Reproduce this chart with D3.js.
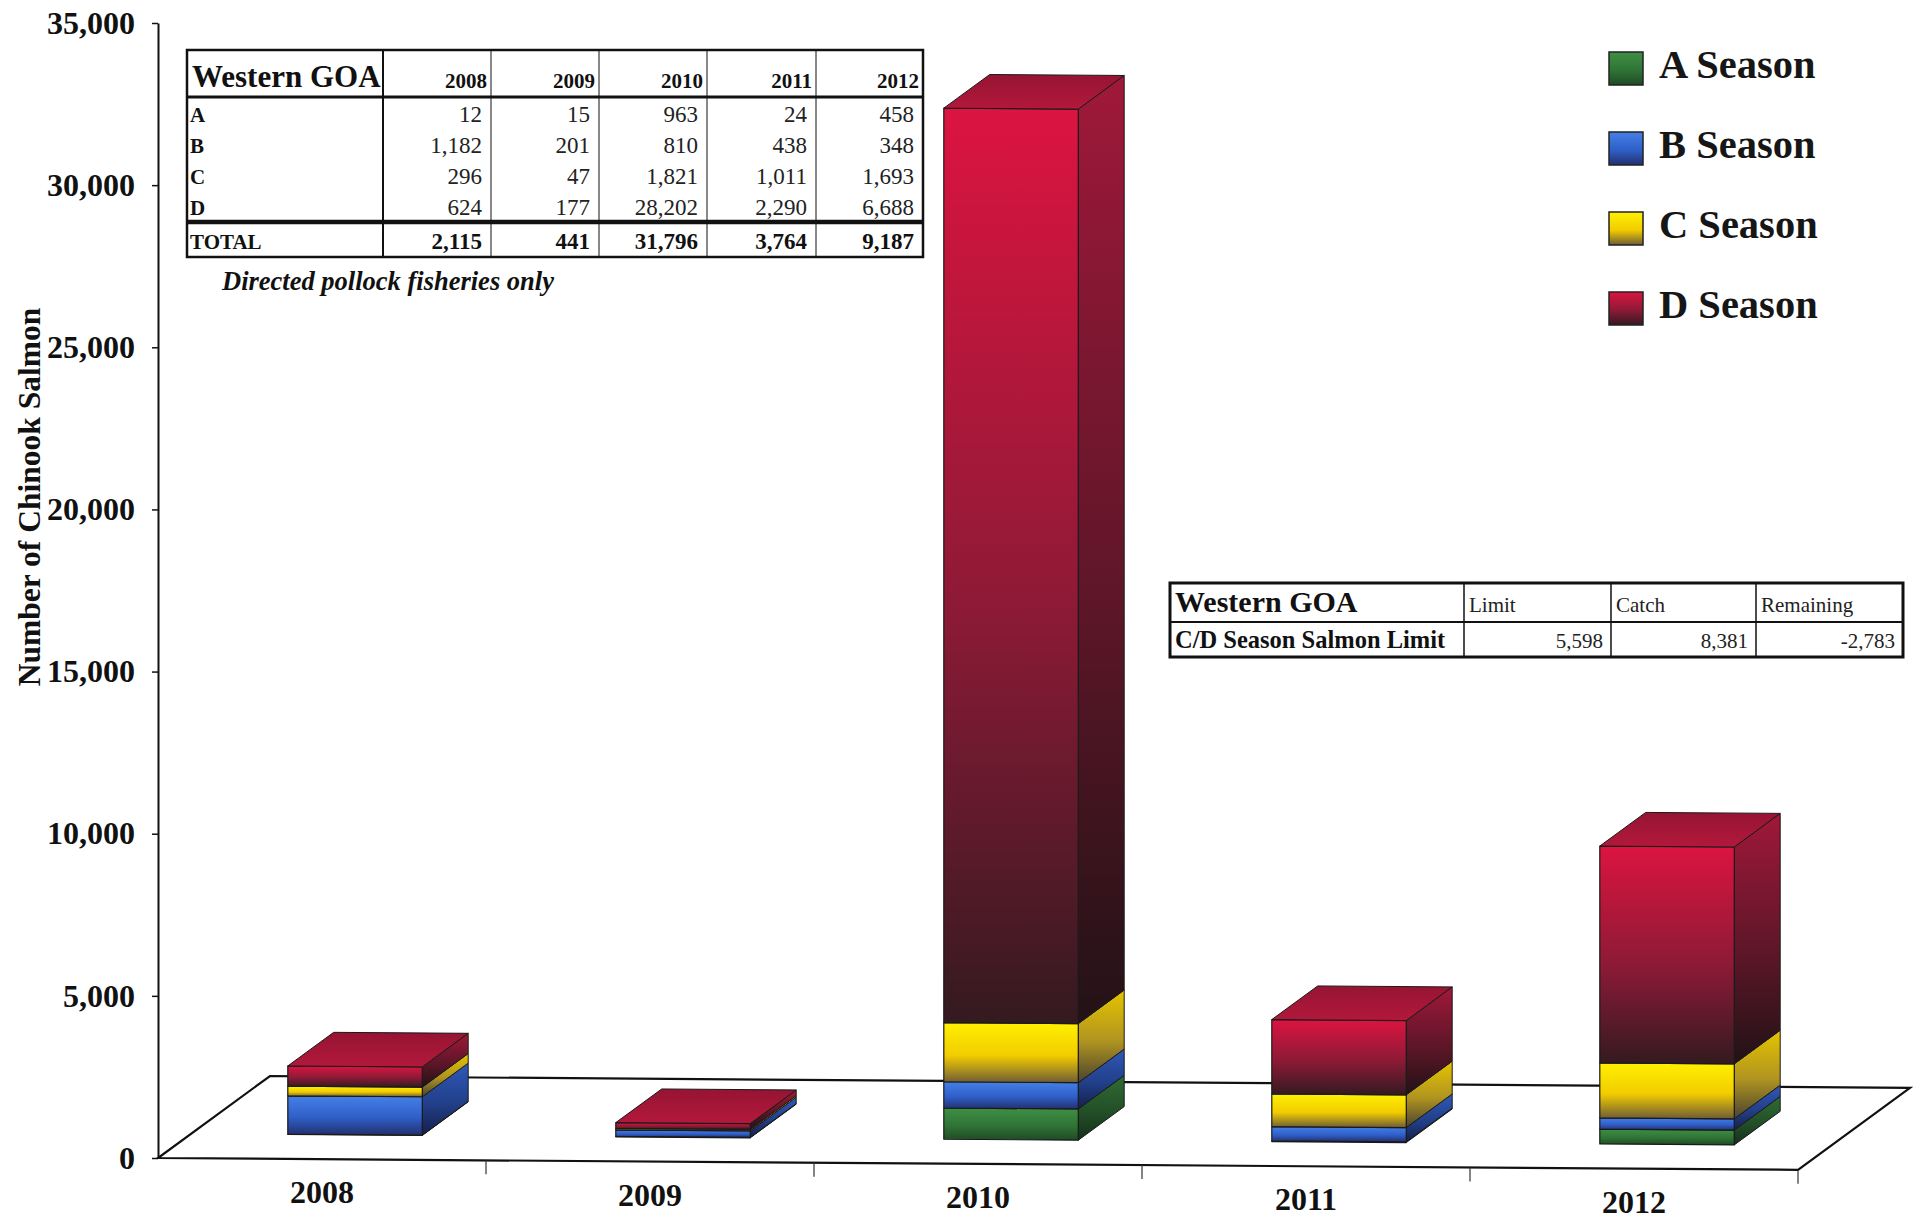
<!DOCTYPE html>
<html>
<head>
<meta charset="utf-8">
<script src="https://cdn.jsdelivr.net/npm/d3@7"></script>
<style>
  html, body { margin: 0; padding: 0; background: #fff; }
  svg { display: block; font-family: "Liberation Serif", "Times New Roman", serif; }
</style>
</head>
<body>
<svg id="chart" width="1919" height="1219"></svg>
<script>
// Western GOA Chinook salmon bycatch, directed pollock fisheries, by season
const years   = ["2008", "2009", "2010", "2011", "2012"];
const seasons = ["A", "B", "C", "D"];
const seasonA = [12, 15, 963, 24, 458];
const seasonB = [1182, 201, 810, 438, 348];
const seasonC = [296, 47, 1821, 1011, 1693];
const seasonD = [624, 177, 28202, 2290, 6688];
const totals  = [2115, 441, 31796, 3764, 9187];
const yTicks  = [0, 5000, 10000, 15000, 20000, 25000, 30000, 35000];
const legendLabels = ["A Season", "B Season", "C Season", "D Season"];

// C/D season limit summary
const limitHeaders = ["Limit", "Catch", "Remaining"];
const limitValues  = [5598, 8381, -2783];

const seasonValues = { A: seasonA, B: seasonB, C: seasonC, D: seasonD };
const rows = years.map((yr, i) => {
  const r = { year: yr };
  seasons.forEach(s => { r[s] = seasonValues[s][i]; });
  return r;
});

const svg = d3.select("#chart");
const fmt = d3.formatLocale({ decimal: ".", thousands: ",", grouping: [3], currency: ["$", ""], minus: "-" }).format(",");
const serif = '"Liberation Serif", "Times New Roman", serif';

// ---- colour ramps for each season (front, side, top faces) ----
const palette = {
  A: { front: ["#3f8f45", "#2f7436", "#1f4a25"], side: ["#2f6c34", "#234f27", "#14301a"], top: "#3a8240" },
  B: { front: ["#4580e6", "#2f5fc8", "#23306e"], side: ["#2f58b8", "#22408a", "#151f4c"], top: "#3d70d6" },
  C: { front: ["#fff000", "#f2cc00", "#6e5c36"], side: ["#e6c400", "#b09420", "#4a4230"], top: "#f6da00" },
  D: { front: ["#dc1440", "#8c1a36", "#341a20"], side: ["#a0183a", "#5e1628", "#221216"], top: "#b3183c" }
};

const defs = svg.append("defs");
seasons.forEach(s => {
  ["front", "side"].forEach(face => {
    const g = defs.append("linearGradient")
      .attr("id", `g-${face}-${s}`)
      .attr("x1", 0).attr("y1", 0).attr("x2", 0).attr("y2", 1);
    const stops = palette[s][face];
    g.append("stop").attr("offset", "0%").attr("stop-color", stops[0]);
    g.append("stop").attr("offset", "55%").attr("stop-color", stops[1]);
    g.append("stop").attr("offset", "100%").attr("stop-color", stops[2]);
  });
  const gt = defs.append("linearGradient")
    .attr("id", `g-top-${s}`)
    .attr("x1", 0).attr("y1", 1).attr("x2", 0).attr("y2", 0);
  gt.append("stop").attr("offset", "0%").attr("stop-color", palette[s].top);
  gt.append("stop").attr("offset", "100%").attr("stop-color", d3.color(palette[s].top).darker(0.5));
});

// ---- oblique floor projection ----
const floor = { x0: 158, y0: 1158, len: 1640, dx: 112, dy: -82, slope: 0.0072 };
const proj = (u, w) => [floor.x0 + u + w * floor.dx, floor.y0 + u * floor.slope + w * floor.dy];

const y = d3.scaleLinear().domain([0, 35000]).range([1158, 23]);
const lift = v => y(0) - y(v);
const x = d3.scaleBand().domain(years).range([0, floor.len]);
const barW = x.bandwidth() * 0.41;
const wFront = 0.295, wBack = 0.705;

const pt = (u, w, v) => { const p = proj(u, w); return [p[0], p[1] - lift(v)]; };
const poly = pts => pts.map(p => p.join(",")).join(" ");

// floor plane
const gFloor = svg.append("g");
gFloor.append("polygon")
  .attr("points", poly([proj(0, 0), proj(floor.len, 0), proj(floor.len, 1), proj(0, 1)]))
  .attr("fill", "#fff").attr("stroke", "#111").attr("stroke-width", 2.2)
  .attr("stroke-linejoin", "miter");
years.forEach(yr => {
  const p = proj(x(yr) + x.bandwidth(), 0);
  gFloor.append("line")
    .attr("x1", p[0]).attr("y1", p[1]).attr("x2", p[0]).attr("y2", p[1] + 14)
    .attr("stroke", "#333").attr("stroke-width", 1.2);
});

// y axis
const gy = svg.append("g").attr("transform", `translate(${floor.x0},0)`)
  .call(d3.axisLeft(y).tickValues(yTicks).tickFormat(fmt).tickSize(6).tickSizeOuter(0).tickPadding(17));
gy.select(".domain").attr("stroke", "#111").attr("stroke-width", 2);
gy.selectAll(".tick line").attr("stroke", "#111").attr("stroke-width", 1.5);
gy.selectAll(".tick text")
  .attr("font-family", serif).attr("font-size", 32).attr("font-weight", "bold").attr("fill", "#111");

svg.append("text")
  .attr("transform", "translate(29,497) rotate(-90)")
  .attr("text-anchor", "middle").attr("dominant-baseline", "central")
  .attr("font-size", 31.5).attr("font-weight", "bold").attr("fill", "#111")
  .text("Number of Chinook Salmon");

// x labels along the floor's front edge
years.forEach(yr => {
  const p = proj(x(yr) + x.bandwidth() / 2, 0);
  svg.append("text")
    .attr("x", p[0]).attr("y", p[1] + 33)
    .attr("text-anchor", "middle").attr("dominant-baseline", "central")
    .attr("font-size", 32).attr("font-weight", "bold").attr("fill", "#111")
    .text(yr);
});

// ---- stacked 3D bars ----
const stacked = d3.stack().keys(seasons)(rows);
const gBars = svg.append("g");
years.forEach((yr, i) => {
  const u0 = x(yr) + (x.bandwidth() - barW) / 2;
  const u1 = u0 + barW;
  const g = gBars.append("g");
  stacked.forEach(series => {
    const s = series.key;
    const [v0, v1] = series[i];
    g.append("polygon")
      .attr("points", poly([pt(u1, wFront, v0), pt(u1, wBack, v0), pt(u1, wBack, v1), pt(u1, wFront, v1)]))
      .attr("fill", `url(#g-side-${s})`).attr("stroke", "#1a1a1a").attr("stroke-width", 1)
      .attr("stroke-linejoin", "round");
    g.append("polygon")
      .attr("points", poly([pt(u0, wFront, v0), pt(u1, wFront, v0), pt(u1, wFront, v1), pt(u0, wFront, v1)]))
      .attr("fill", `url(#g-front-${s})`).attr("stroke", "#1a1a1a").attr("stroke-width", 1.2)
      .attr("stroke-linejoin", "round");
  });
  const last = stacked[stacked.length - 1];
  const top = last[i][1];
  g.append("polygon")
    .attr("points", poly([pt(u0, wFront, top), pt(u1, wFront, top), pt(u1, wBack, top), pt(u0, wBack, top)]))
    .attr("fill", `url(#g-top-${last.key})`).attr("stroke", "#1a1a1a").attr("stroke-width", 1)
    .attr("stroke-linejoin", "round");
});

// ---- legend ----
const gLeg = svg.append("g");
seasons.forEach((s, i) => {
  const top = 52 + i * 80;
  gLeg.append("rect")
    .attr("x", 1609).attr("y", top).attr("width", 34).attr("height", 33)
    .attr("fill", `url(#g-front-${s})`).attr("stroke", "#222").attr("stroke-width", 1.5);
  gLeg.append("text")
    .attr("x", 1659).attr("y", top + 26)
    .attr("font-size", 40.5).attr("font-weight", "bold").attr("fill", "#161616")
    .text(legendLabels[i]);
});

// ---- yearly breakdown table ----
const t1 = svg.append("g");
const colX = [187, 383, 491, 599, 707, 816, 923];
const tTop = 50, headBot = 97, rowH = 31, totTop = 222, tBot = 257;
const line = (g, x1, y1, x2, y2, w) => g.append("line")
  .attr("x1", x1).attr("y1", y1).attr("x2", x2).attr("y2", y2)
  .attr("stroke", "#111").attr("stroke-width", w);

t1.append("rect").attr("x", colX[0]).attr("y", tTop)
  .attr("width", colX[6] - colX[0]).attr("height", tBot - tTop)
  .attr("fill", "#fff").attr("stroke", "#111").attr("stroke-width", 2.5);
colX.slice(1, 6).forEach((cx, k) => line(t1, cx, tTop, cx, tBot, k === 0 ? 2 : 1));
line(t1, colX[0], headBot, colX[6], headBot, 3);
line(t1, colX[0], totTop, colX[6], totTop, 4.5);

t1.append("text").attr("x", 192).attr("y", 87)
  .attr("font-size", 31).attr("font-weight", "bold").attr("fill", "#111").text("Western GOA");
years.forEach((yr, j) => {
  t1.append("text").attr("x", colX[j + 2] - 4).attr("y", 88)
    .attr("text-anchor", "end").attr("font-size", 21).attr("font-weight", "bold").attr("fill", "#111")
    .text(yr);
});
seasons.forEach((s, r) => {
  const cy = headBot + 2 + rowH * r + rowH / 2;
  t1.append("text").attr("x", 190).attr("y", cy).attr("dominant-baseline", "central")
    .attr("font-size", 21).attr("font-weight", "bold").attr("fill", "#111").text(s);
  seasonValues[s].forEach((v, j) => {
    t1.append("text").attr("x", colX[j + 2] - 9).attr("y", cy).attr("dominant-baseline", "central")
      .attr("text-anchor", "end").attr("font-size", 23).attr("fill", "#222").text(fmt(v));
  });
});
const totY = (totTop + tBot) / 2 + 2;
t1.append("text").attr("x", 190).attr("y", totY).attr("dominant-baseline", "central")
  .attr("font-size", 21).attr("font-weight", "bold").attr("fill", "#111").text("TOTAL");
totals.forEach((v, j) => {
  t1.append("text").attr("x", colX[j + 2] - 9).attr("y", totY).attr("dominant-baseline", "central")
    .attr("text-anchor", "end").attr("font-size", 23).attr("font-weight", "bold").attr("fill", "#111")
    .text(fmt(v));
});
svg.append("text").attr("x", 222).attr("y", 290)
  .attr("font-size", 26.5).attr("font-weight", "bold").attr("font-style", "italic").attr("fill", "#111")
  .text("Directed pollock fisheries only");

// ---- C/D season limit table ----
const t2 = svg.append("g");
const c2 = [1170, 1464, 1611, 1756, 1903];
const t2Top = 583, t2Mid = 622, t2Bot = 657;
t2.append("rect").attr("x", c2[0]).attr("y", t2Top)
  .attr("width", c2[4] - c2[0]).attr("height", t2Bot - t2Top)
  .attr("fill", "#fff").attr("stroke", "#111").attr("stroke-width", 3);
c2.slice(1, 4).forEach(cx => line(t2, cx, t2Top, cx, t2Bot, 1.5));
line(t2, c2[0], t2Mid, c2[4], t2Mid, 2);

t2.append("text").attr("x", 1175).attr("y", 612)
  .attr("font-size", 30).attr("font-weight", "bold").attr("fill", "#111").text("Western GOA");
limitHeaders.forEach((h, j) => {
  t2.append("text").attr("x", c2[j + 1] + 5).attr("y", 612)
    .attr("font-size", 21).attr("fill", "#222").text(h);
});
t2.append("text").attr("x", 1175).attr("y", 648)
  .attr("font-size", 24.5).attr("font-weight", "bold").attr("fill", "#111").text("C/D Season Salmon Limit");
limitValues.forEach((v, j) => {
  t2.append("text").attr("x", c2[j + 2] - 8).attr("y", 648)
    .attr("text-anchor", "end").attr("font-size", 21).attr("fill", "#222").text(fmt(v));
});
</script>
</body>
</html>
